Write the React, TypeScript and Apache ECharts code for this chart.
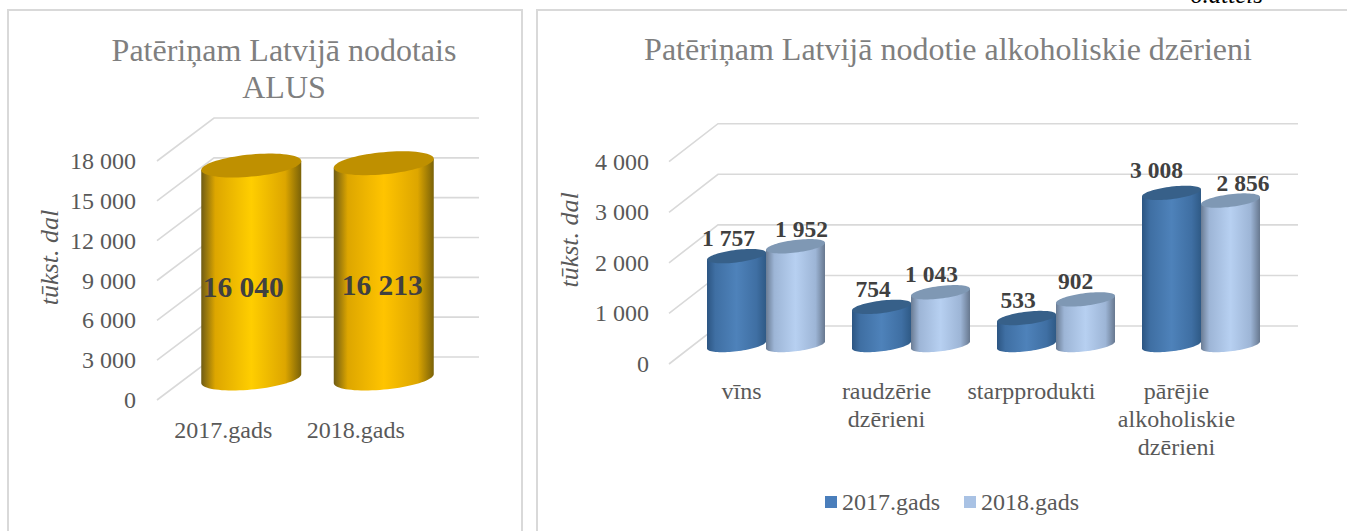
import React, { useEffect, useRef } from "react";
import * as echarts from "echarts";

// ---- data ----
const beerYears = ["2017.gads", "2018.gads"];
const beerValues = [16040, 16213];
const beerTicks = [0, 3000, 6000, 9000, 12000, 15000, 18000];

const drinkCategories = ["vīns", "raudzērie\ndzērieni", "starpprodukti", "pārējie\nalkoholiskie\ndzērieni"];
const drinks2017 = [1757, 754, 533, 3008];
const drinks2018 = [1952, 1043, 902, 2856];
const drinkTicks = [0, 1000, 2000, 3000, 4000];

const titleLeft = "Patēriņam Latvijā nodotais\nALUS";
const titleRight = "Patēriņam Latvijā nodotie alkoholiskie dzērieni";
const axisName = "tūkst. dal";
const cornerNote = "6.attēls";

// ---- layout / style ----
const FONT = "Liberation Serif";
const GRID = "#d9d9d9";
const TEXT = "#595959";
const fmt = (v: number) => String(v).replace(/\B(?=(\d{3})+$)/g, " ");

const beerLabelShift = [[-8, 121.7], [-1.5, 122]];
const d17LabelShift = [[-8, -18], [-8.5, -18], [-8.5, -18], [-15, -23]];
const d18LabelShift = [[6, -17], [-9, -18], [-10, -18], [12.5, -17.6]];

const shade = (edge: string, mid: string, center: string, edge2: string) =>
  new echarts.graphic.LinearGradient(0, 0, 1, 0, [
    { offset: 0, color: edge },
    { offset: 0.14, color: mid },
    { offset: 0.5, color: center },
    { offset: 0.84, color: mid },
    { offset: 1, color: edge2 },
  ]);

function gridRender(dx: number, dy: number) {
  return (params: any, api: any) => {
    const cs = params.coordSys;
    const y = api.coord([0, api.value(1)])[1];
    return {
      type: "polyline",
      silent: true,
      shape: {
        points: [
          [cs.x, y],
          [cs.x + dx, y + dy],
          [cs.x + cs.width + dx, y + dy],
        ],
      },
      style: { stroke: GRID, lineWidth: 1.6, fill: "none" },
    };
  };
}

type CylOpt = {
  rx: number; tilt: number; minor: number; dx: number; dy: number; offset: number;
  fills: any[]; tops: string[]; shifts: number[][]; fontSize: number;
};

function cylinderRender(o: CylOpt) {
  return (params: any, api: any) => {
    const i = params.dataIndex;
    const idx = api.value(0);
    const v = api.value(1);
    const top = api.coord([idx, v]);
    const base = api.coord([idx, 0]);
    const cx = top[0] + o.dx + o.offset;
    const ty = top[1] + o.dy;
    const by = base[1] + o.dy;
    const pt = (cy: number, t: number) => [
      cx + o.rx * Math.cos(t),
      cy - o.tilt * Math.cos(t) + o.minor * Math.sin(t),
    ];
    const bottomArc: number[][] = [];
    const ring: number[][] = [];
    for (let k = 0; k <= 40; k++) bottomArc.push(pt(by, (Math.PI * k) / 40));
    for (let k = 0; k < 72; k++) ring.push(pt(ty, (2 * Math.PI * k) / 72));
    const body = [pt(ty, Math.PI), pt(ty, 0), ...bottomArc];
    const fill = o.fills[i % o.fills.length];
    const topColor = o.tops[i % o.tops.length];
    const sh = o.shifts[i];
    return {
      type: "group",
      silent: true,
      children: [
        { type: "polygon", shape: { points: body }, style: { fill } },
        { type: "polygon", shape: { points: ring }, style: { fill: topColor } },
        {
          type: "text",
          x: cx + sh[0],
          y: ty + sh[1],
          z2: 10,
          style: {
            text: fmt(v),
            fill: "#404040",
            font: `bold ${o.fontSize}px "${FONT}"`,
            align: "center",
            verticalAlign: "middle",
          },
        },
      ],
    };
  };
}

const axisCommon = {
  axisLine: { show: false },
  axisTick: { show: false },
  splitLine: { show: false },
};
const labelStyle = { color: TEXT, fontFamily: FONT, fontSize: 24 };
const nameStyle = { color: TEXT, fontFamily: FONT, fontSize: 26, fontStyle: "italic" as const, padding: [0, 0, 0, 46] };

export default function App() {
  const ref = useRef<HTMLDivElement>(null);
  useEffect(() => {
    const chart = echarts.init(ref.current!, undefined, { renderer: "svg" });
    chart.setOption({
      animation: false,
      backgroundColor: "#ffffff",
      title: [
        {
          text: titleLeft, left: 279, top: 26, textAlign: "center",
          textStyle: { color: "#7f7f7f", fontFamily: FONT, fontSize: 32, fontWeight: "normal", lineHeight: 37 },
        },
        {
          text: titleRight, left: 943, top: 25, textAlign: "center",
          textStyle: { color: "#7f7f7f", fontFamily: FONT, fontSize: 32, fontWeight: "normal", lineHeight: 37 },
        },
      ],
      legend: {
        data: ["2017.gads", "2018.gads"],
        left: 820, top: 485, icon: "rect", itemWidth: 12, itemHeight: 12, itemGap: 24,
        textStyle: { ...labelStyle },
      },
      grid: [
        { left: 157, top: 161, width: 265, height: 239 },
        { left: 669, top: 161.7, width: 580, height: 202.3 },
      ],
      xAxis: [
        { gridIndex: 0, type: "category", data: beerYears, ...axisCommon, axisLabel: { ...labelStyle, margin: 16, lineHeight: 28 } },
        { gridIndex: 1, type: "category", data: drinkCategories, ...axisCommon, axisLabel: { ...labelStyle, margin: 13, lineHeight: 28, interval: 0 } },
      ],
      yAxis: [
        {
          gridIndex: 0, type: "value", min: 0, max: 18000, interval: 3000, ...axisCommon,
          axisLabel: { ...labelStyle, margin: 21, formatter: fmt, padding: [2, 0, 0, 0] },
          name: axisName, nameLocation: "middle", nameRotate: 90, nameGap: 95, nameTextStyle: nameStyle,
        },
        {
          gridIndex: 1, type: "value", min: 0, max: 4000, interval: 1000, ...axisCommon,
          axisLabel: { ...labelStyle, margin: 20, formatter: fmt },
          name: axisName, nameLocation: "middle", nameRotate: 90, nameGap: 87, nameTextStyle: nameStyle,
        },
      ],
      graphic: [
        { type: "rect", z: -10, shape: { x: 8, y: 10, width: 514, height: 600 }, style: { fill: "#fff", stroke: GRID, lineWidth: 2 } },
        { type: "rect", z: -10, shape: { x: 537, y: 10, width: 900, height: 600 }, style: { fill: "#fff", stroke: GRID, lineWidth: 2 } },
        {
          type: "text", x: 1190, y: 7,
          style: { text: cornerNote, fill: "#000", font: `italic 25px "${FONT}"`, align: "left", verticalAlign: "bottom" },
        },
      ],
      series: [
        {
          type: "custom", xAxisIndex: 0, yAxisIndex: 0, z: 1, silent: true,
          renderItem: gridRender(57, -43),
          data: beerTicks.map((v) => [0, v]),
          encode: { x: 0, y: 1 },
        },
        {
          type: "custom", xAxisIndex: 1, yAxisIndex: 1, z: 1, silent: true,
          renderItem: gridRender(49, -38),
          data: drinkTicks.map((v) => [0, v]),
          encode: { x: 0, y: 1 },
        },
        {
          type: "custom", name: "Alus", xAxisIndex: 0, yAxisIndex: 0, z: 2,
          renderItem: cylinderRender({
            rx: 50, tilt: 4.5, minor: 11.1, dx: 28, dy: -21.5, offset: 0,
            fills: [
              shade("#6f5c14", "#dda600", "#ffce00", "#7a6208"),
              shade("#6f5c14", "#dda600", "#ffc400", "#7a6208"),
            ],
            tops: ["#bf9000", "#bf9000"],
            shifts: beerLabelShift, fontSize: 29.5,
          }),
          data: beerValues.map((v, i) => [i, v]),
          encode: { x: 0, y: 1 },
        },
        {
          type: "custom", name: "2017.gads", xAxisIndex: 1, yAxisIndex: 1, z: 2,
          itemStyle: { color: "#4a7ebb" },
          renderItem: cylinderRender({
            rx: 29.5, tilt: 3.5, minor: 6.3, dx: 24.5, dy: -19, offset: -29.5,
            fills: [shade("#2c5582", "#3f6fa3", "#4e82ba", "#2f5a86")],
            tops: ["#376089"], shifts: d17LabelShift, fontSize: 23.5,
          }),
          data: drinks2017.map((v, i) => [i, v]),
          encode: { x: 0, y: 1 },
        },
        {
          type: "custom", name: "2018.gads", xAxisIndex: 1, yAxisIndex: 1, z: 3,
          itemStyle: { color: "#a9c2e4" },
          renderItem: cylinderRender({
            rx: 29.5, tilt: 3.5, minor: 6.3, dx: 24.5, dy: -19, offset: 29.5,
            fills: [shade("#6a7c94", "#9db5d6", "#b7d0f1", "#67788f")],
            tops: ["#7f98b4"], shifts: d18LabelShift, fontSize: 23.5,
          }),
          data: drinks2018.map((v, i) => [i, v]),
          encode: { x: 0, y: 1 },
        },
      ],
    });
    return () => chart.dispose();
  }, []);
  return (
    <div
      ref={ref}
      style={{ position: "absolute", left: 0, top: 0, width: 1347, height: 531, background: "#fff" }}
    />
  );
}
